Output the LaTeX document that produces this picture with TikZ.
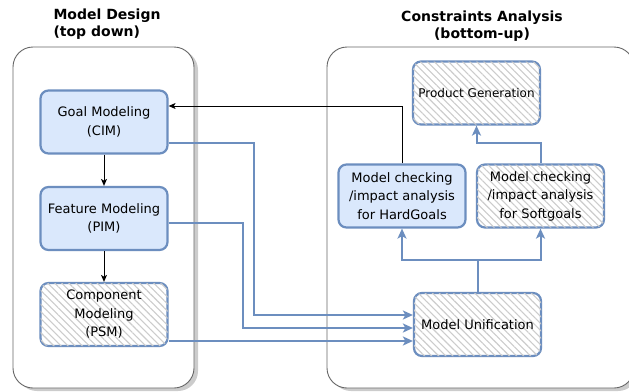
\documentclass[tikz,border=0pt]{standalone}
\usepackage{fontspec}
\setmainfont{DejaVu Sans}
\usetikzlibrary{arrows.meta,patterns.meta,shadows}
\definecolor{bluefill}{HTML}{DAE8FC}
\definecolor{blueline}{HTML}{6C8EBF}
\begin{document}
\begin{tikzpicture}[x = 1pt, y = -1pt]
\tikzstyle{PanelStyle}=[
draw = black!60,
line width = 0.9pt,
rounded corners = 20pt,
fill = white,
drop shadow = {shadow xshift = 4pt, shadow yshift = -3pt, opacity = 0.4}]
\tikzstyle{BoxStyle}=[
draw = blueline,
line width = 2.2pt,
rounded corners = 8pt,
minimum width = 127pt,
minimum height = 63pt,
align = center,
font = \fontsize{13}{18.5}\selectfont]
\tikzstyle{BlueBox}=[BoxStyle, fill = bluefill]
\tikzstyle{HatchBox}=[BoxStyle, fill = white,
postaction = {pattern = {Lines[angle = -45, distance = 5pt, line width = 1.1pt]}, pattern color = black!20}]
\tikzstyle{BlueArrow}=[draw = blueline, line width = 2pt, -{Stealth[length = 10pt, width = 9pt, inset = 2.5pt]}]
\tikzstyle{BlackArrow}=[draw = black, line width = 1pt, -{Stealth[length = 7pt, width = 6pt, inset = 1.8pt]}]
\tikzstyle{TitleStyle}=[font = \bfseries\fontsize{14}{17}\selectfont]
\useasboundingbox (0,0) rectangle (629,391);
\path[PanelStyle] (13,47) rectangle (194,388);
\path[PanelStyle] (327,47) rectangle (634,388);
\node[TitleStyle, anchor = north west, align = left] (designtitle) at (50,5) {Model Design\\(top down)};
\node[TitleStyle, anchor = north, align = center] (analysistitle) at (482,7) {Constraints Analysis\\(bottom-up)};
\node[BlueBox] (goal) at (104,122) {Goal Modeling\\(CIM)};
\node[BlueBox] (feature) at (104,218.5) {Feature Modeling\\(PIM)};
\node[HatchBox] (psm) at (104,314.5) {Component\\Modeling\\(PSM)};
\node[HatchBox, font = \fontsize{12}{14}\selectfont] (product) at (476.5,93) {Product Generation};
\node[BlueBox] (hard) at (402,196) {Model checking\\/impact analysis\\for HardGoals};
\node[HatchBox] (soft) at (540.5,196) {Model checking\\/impact analysis\\for Softgoals};
\node[HatchBox] (unify) at (477.5,324.5) {Model Unification};
\coordinate (goalout) at ([yshift = -21pt]goal.east);
\coordinate (featout) at ([yshift = -4.5pt]feature.east);
\coordinate (psmout) at ([yshift = -26.5pt]psm.east);
\coordinate (inA) at ([yshift = 9.5pt]unify.west);
\coordinate (inB) at ([yshift = -3.5pt]unify.west);
\coordinate (inC) at ([yshift = -16.5pt]unify.west);
\coordinate (laneA) at (254,0);
\coordinate (laneB) at (243,0);
\coordinate (split) at ([yshift = 32pt]unify.north);
\draw[BlueArrow] (goalout) -| (laneA |- inA) -- (inA);
\draw[BlueArrow] (featout) -| (laneB |- inB) -- (inB);
\draw[BlueArrow] (psmout) -- (inC);
\draw[draw = blueline, line width = 2pt] (unify.north) -- (split);
\draw[BlueArrow] (split) -| (hard.south);
\draw[BlueArrow] (split) -| (soft.south);
\draw[BlueArrow] (soft.north) -- ++(0,-20) -| (product.south);
\draw[BlackArrow] (hard.north) |- ([yshift = 16pt]goal.east);
\draw[BlackArrow] (goal.south) -- (feature.north);
\draw[BlackArrow] (feature.south) -- (psm.north);
\end{tikzpicture}
\end{document}
